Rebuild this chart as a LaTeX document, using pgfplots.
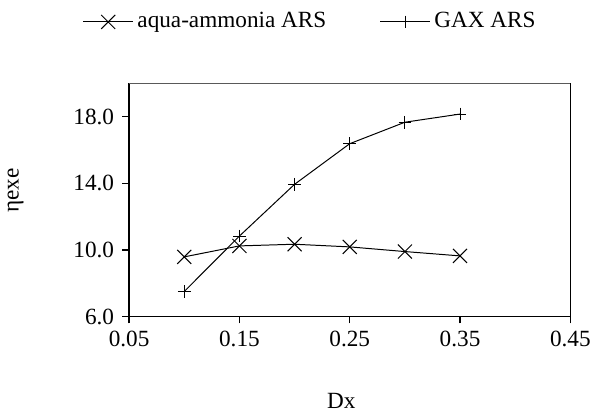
\documentclass[border=0pt]{standalone}
\usepackage{fontspec}
\setmainfont{Liberation Serif}
\usepackage{pgfplots}
\pgfplotsset{compat=1.18}
\begin{document}
\fontsize{11.7}{14}\selectfont
\begin{tikzpicture}
\begin{axis}[
  scale only axis,
  width=222.5pt, height=117.5pt,
  xmin=0.05, xmax=0.45, ymin=6, ymax=20,
  xtick={0.05,0.15,0.25,0.35,0.45},
  ytick={6,10,14,18},
  /pgf/number format/assume math mode=true,
  xticklabel style={inner xsep=0pt, /pgf/number format/.cd,fixed,fixed zerofill,precision=2},
  yticklabel style={/pgf/number format/.cd,fixed,fixed zerofill,precision=1},
  tick align=outside, tick pos=left,
  major tick length=3.5pt,
  tick style={black, line width=0.75pt},
  axis line style={black, line width=0.75pt},
  xlabel={Dx}, ylabel={ηexe},
  xlabel style={at={(rel axis cs:0.481,-0.362)}, anchor=center},
  ylabel style={at={(rel axis cs:-0.257,0.54)}, anchor=center, rotate=0},
  legend style={draw=none, fill=none, at={(rel axis cs:-0.119,1.264)}, anchor=west, legend columns=2, font=\fontsize{11.7}{14}\selectfont},
  legend cell align=left,
  /tikz/every even column/.append style={column sep=25pt},
  legend image code/.code={\draw[mark repeat=2,mark phase=2,#1] plot coordinates {(0pt,0pt)(12.5pt,0pt)(25pt,0pt)};},
  after end axis/.code={
    \draw[line width=0.8pt, black!65] (rel axis cs:0,1) -- (rel axis cs:1,1);
    \draw[line width=0.75pt, black] (rel axis cs:1,0) -- (rel axis cs:1,1);
    \path (rel axis cs:-0.29,-0.421) (rel axis cs:1.049,1.358);
  },
]
\addplot[black, line width=0.5pt, mark=x, mark size=5pt, mark options={line width=0.5pt}] coordinates {
(0.10,9.58) (0.15,10.24) (0.20,10.34) (0.25,10.18) (0.30,9.90) (0.35,9.64)};
\addlegendentry{aqua-ammonia ARS}
\addplot[black, line width=0.5pt, mark=+, mark size=3.2pt, mark options={line width=0.5pt}] coordinates {
(0.10,7.50) (0.15,10.83) (0.20,13.94) (0.25,16.38) (0.30,17.67) (0.35,18.16)};
\addlegendentry{GAX ARS}
\end{axis}
\end{tikzpicture}
\end{document}
